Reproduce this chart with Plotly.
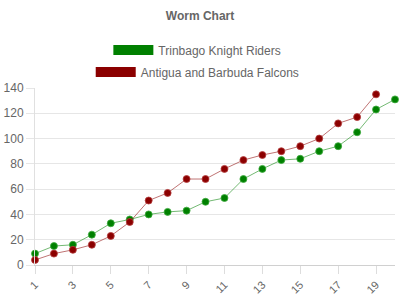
import plotly.graph_objects as go

overs = list(range(1, 21))
tkr_runs = [9, 15, 16, 24, 33, 36, 40, 42, 43, 50, 53, 68, 76, 83, 84, 90, 94, 105, 123, 131]
abf_runs = [4, 9, 12, 16, 23, 34, 51, 57, 68, 68, 76, 83, 87, 90, 94, 100, 112, 117, 135]
team1 = "Trinbago Knight Riders"
team2 = "Antigua and Barbuda Falcons"
xtick_vals = [1, 3, 5, 7, 9, 11, 13, 15, 17, 19]
ytick_vals = [0, 20, 40, 60, 80, 100, 120, 140]

FONT = "Liberation Sans, Arial, sans-serif"
GREY = "#666666"

fig = go.Figure()
fig.add_trace(go.Scatter(
    x=overs[:len(tkr_runs)], y=tkr_runs, mode="lines+markers", showlegend=False,
    line=dict(color="rgba(0,128,0,0.55)", width=1),
    marker=dict(color="#008000", size=7, line=dict(color="rgba(60,170,60,0.8)", width=1)),
    cliponaxis=False,
))
fig.add_trace(go.Scatter(
    x=overs[:len(abf_runs)], y=abf_runs, mode="lines+markers", showlegend=False,
    line=dict(color="rgba(139,0,0,0.55)", width=1),
    marker=dict(color="#8B0000", size=7, line=dict(color="rgba(180,60,60,0.8)", width=1)),
    cliponaxis=False,
))
# legend entries
fig.add_trace(go.Scatter(x=[None], y=[None], mode="lines", name=team1,
                         line=dict(color="#008000", width=12), legend="legend"))
fig.add_trace(go.Scatter(x=[None], y=[None], mode="lines", name=team2,
                         line=dict(color="#8B0000", width=12), legend="legend2"))

leg_common = dict(xanchor="center", yanchor="middle", itemwidth=40,
                  font=dict(family=FONT, size=12, color=GREY),
                  bgcolor="rgba(0,0,0,0)", tracegroupgap=0)

fig.update_layout(
    width=400, height=300,
    margin=dict(l=35, r=5, t=88, b=35),
    paper_bgcolor="white", plot_bgcolor="white",
    font=dict(family=FONT, size=12, color=GREY),
    title=dict(text="<b>Worm Chart</b>", x=0.5, xanchor="center", y=1 - 16 / 300, yanchor="middle",
               font=dict(family=FONT, size=12, color=GREY)),
    legend=dict(x=0.451, y=(265 - 50) / 177, **leg_common),
    legend2=dict(x=0.452, y=(265 - 72) / 177, **leg_common),
    xaxis=dict(range=[1, 20], tickvals=xtick_vals, tickangle=-45, showgrid=False,
               showline=True, linecolor="#d0d0d0", linewidth=1,
               ticks="outside", ticklen=8, tickcolor="#dddddd",
               tickfont=dict(family=FONT, size=11, color=GREY), zeroline=False),
    yaxis=dict(range=[0, 140], tickvals=ytick_vals, showgrid=True, gridcolor="#e6e6e6",
               showline=True, linecolor="#e0e0e0", linewidth=1,
               ticks="outside", ticklen=8, tickcolor="#e6e6e6",
               tickfont=dict(family=FONT, size=12, color=GREY), zeroline=False),
)

fig.write_html("out.html")
